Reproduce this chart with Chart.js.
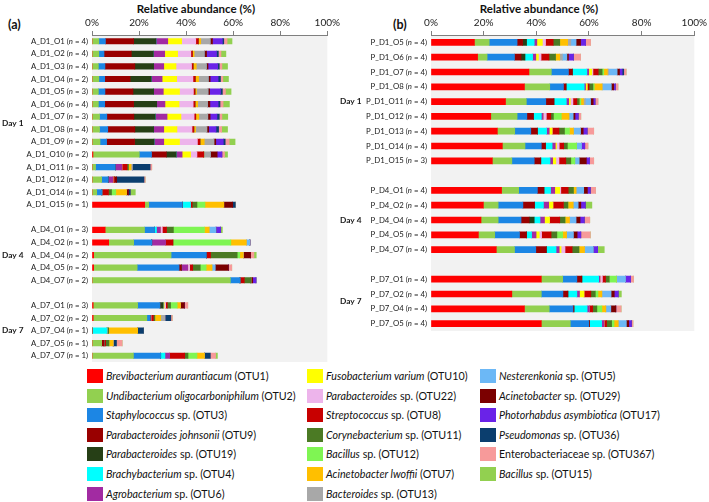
<!DOCTYPE html>
<html>
<head>
<meta charset="utf-8">
<script src="https://cdn.jsdelivr.net/npm/chart.js@4.4.0/dist/chart.umd.min.js"></script>
<style>
  body { margin: 0; background: #fff; font-family: Lato, "Open Sans", sans-serif; color: #111; }
  #wrap { position: relative; width: 709px; height: 502px; overflow: hidden; }
  .chartbox { position: absolute; top: 0; }
  .title { position: absolute; top: 2px; font-weight: bold; font-size: 11.5px; transform: translateX(-50%); white-space: nowrap; }
  .panel { position: absolute; top: 17px; font-weight: bold; font-size: 12.5px; }
  .item { position: absolute; font-size: 10.7px; white-space: nowrap; line-height: 14px; }
  .sw { display: inline-block; width: 16px; height: 14px; vertical-align: top; margin-right: 3px; }
</style>
</head>
<body>
<div id="wrap">
  <div class="title" style="left:196px">Relative abundance (%)</div>
  <div class="title" style="left:539px">Relative abundance (%)</div>
  <div class="panel" style="left:8px">(a)</div>
  <div class="panel" style="left:393px">(b)</div>
  <div class="chartbox" style="left:0"><canvas id="chartA" width="342" height="366"></canvas></div>
  <div class="chartbox" style="left:340px"><canvas id="chartB" width="369" height="335"></canvas></div>
  <div id="legend"></div>
</div>
<script>
// stack order = legend order (column by column)
const otuNames = [
  ['Brevibacterium aurantiacum', ' (OTU1)'],
  ['Undibacterium oligocarboniphilum', ' (OTU2)'],
  ['Staphylococcus', ' sp. (OTU3)'],
  ['Parabacteroides johnsonii', ' (OTU9)'],
  ['Parabacteroides', ' sp. (OTU19)'],
  ['Brachybacterium', ' sp. (OTU4)'],
  ['Agrobacterium', ' sp. (OTU6)'],
  ['Fusobacterium varium', ' (OTU10)'],
  ['Parabacteroides', ' sp. (OTU22)'],
  ['Streptococcus', ' sp. (OTU8)'],
  ['Corynebacterium', ' sp. (OTU11)'],
  ['Bacillus', ' sp. (OTU12)'],
  ['Acinetobacter lwoffii', ' (OTU7)'],
  ['Bacteroides', ' sp. (OTU13)'],
  ['Nesterenkonia', ' sp. (OTU5)'],
  ['Acinetobacter', ' sp. (OTU29)'],
  ['Photorhabdus asymbiotica', ' (OTU17)'],
  ['Pseudomonas', ' sp. (OTU36)'],
  ['', 'Enterobacteriaceae sp. (OTU367)'],
  ['Bacillus', ' sp. (OTU15)']
];
const otuColors = ['#FF0000', '#92D050', '#1C86E4', '#990000', '#263F16', '#00FFFF', '#A22BA2',
  '#FFFF00', '#EDB4EB', '#C80000', '#4B7A24', '#7FF553', '#FFBF00', '#A8A8A8',
  '#6CB8F6', '#7B0000', '#6A23E8', '#0B3E6E', '#F79A9A', '#92D050'];

// panel (a) samples, '' = spacer between days
const labelsA = ['A_D1_O1', 'A_D1_O2', 'A_D1_O3', 'A_D1_O4', 'A_D1_O5', 'A_D1_O6', 'A_D1_O7',
  'A_D1_O8', 'A_D1_O9', 'A_D1_O10', 'A_D1_O11', 'A_D1_O12', 'A_D1_O14', 'A_D1_O15', '',
  'A_D4_O1', 'A_D4_O2', 'A_D4_O4', 'A_D4_O5', 'A_D4_O7', '',
  'A_D7_O1', 'A_D7_O2', 'A_D7_O4', 'A_D7_O5', 'A_D7_O7'];
const nA = [4, 4, 4, 2, 3, 4, 3, 4, 2, 2, 3, 4, 1, 1, null, 3, 1, 2, 2, 2, null, 3, 2, 1, 1, 1];

const A_D1_O1 = [0, 2.9, 2.8, 12, 9.5, 0, 5, 5.9, 6, 1.1, 0, 0, 1, 4, 0, 1, 4.2, 0.6, 1.4, 2.1];
const A_D1_O2 = [0, 2.9, 2.2, 11.6, 9.4, 0, 4.8, 5.5, 5.6, 0.7, 0, 0, 0.7, 4.3, 0, 1, 4.2, 0.8, 1.1, 2.1];
const A_D1_O3 = [0, 2.7, 2.8, 12.7, 8, 0, 4.3, 5.2, 6.6, 0.7, 0, 0, 1.3, 4.3, 0, 0.7, 4.1, 0.7, 1.1, 2.4];
const A_D1_O4 = [0, 2.9, 2.5, 10.8, 9, 0, 4.6, 6.2, 6.9, 1, 0, 0, 1.4, 4.1, 0, 0.8, 3.4, 1, 1, 2.4];
const A_D1_O5 = [0, 2.7, 2.8, 11.9, 8.8, 0, 4.1, 6.9, 5.9, 0.7, 0, 0, 0.6, 4.9, 0, 0.7, 4.6, 0.8, 1.3, 2.4];
const A_D1_O6 = [0, 2.7, 2.7, 12.3, 9.8, 0, 3.5, 6, 6, 0.8, 0, 0, 1.1, 4.2, 0, 1, 3.5, 0.8, 1.3, 2.7];
const A_D1_O7 = [0, 3.2, 3.1, 11.5, 9.1, 0, 5, 5.9, 5.6, 0.7, 0, 0, 1.3, 3.8, 0, 1, 2.9, 1, 1.1, 2.5];
const A_D1_O8 = [0, 3.2, 3.5, 11.5, 8, 0, 4.3, 5.6, 6.4, 0.8, 0, 0, 0.7, 4.8, 0, 0.8, 3.1, 1.1, 1.3, 2.5];
const A_D1_O9 = [0, 3.4, 2.8, 11.9, 8.3, 0, 4.1, 6.7, 7.6, 1.1, 0, 0, 1.8, 4.1, 0, 0.8, 3.2, 0.8, 1.7, 2.5];
const A_D1_O10 = [0.4, 19.7, 5.2, 6.3, 4.2, 0, 2.5, 3.6, 2.7, 2.9, 0, 0, 0, 2.8, 0, 2.9, 2, 0, 1.1, 1.3];
const A_D1_O11 = [0, 1.5, 8.4, 0, 0, 0, 2.8, 0, 0, 2.2, 0.6, 0, 1.1, 0.5, 0, 0, 0, 7.6, 0.7, 0];
const A_D1_O12 = [0, 4.1, 2.8, 0, 0, 0, 2, 0, 0, 0.7, 0, 0, 0, 0, 0, 0.9, 0, 11.6, 0.5, 0];
const A_D1_O14 = [0, 2, 2.2, 0, 0, 0, 0, 0, 0, 2.8, 1.3, 1.8, 4.6, 0, 0, 0.8, 0, 0.8, 0, 2.1];
const A_D1_O15 = [22.4, 1.7, 14.3, 0, 0, 3.5, 0, 0, 0, 0.7, 2, 3.4, 8, 0, 0, 3.8, 0, 1.1, 0, 0];
const A_D4_O1 = [5.6, 16.7, 4.3, 0, 0, 0.8, 1.7, 0, 0.8, 1.8, 2.9, 13.2, 2, 0, 2.9, 0, 2, 0, 0, 0.7];
const A_D4_O2 = [7.1, 10.6, 7.7, 0, 0, 0, 5.9, 0, 0, 3.1, 0, 24.6, 6.6, 0, 1.5, 0, 0, 0, 0, 0];
const A_D4_O4 = [0.7, 32.9, 15, 0, 0, 0, 0, 0, 0, 1.8, 11.3, 1.1, 1.5, 0, 0, 3.1, 0, 0, 1.4, 1];
const A_D4_O5 = [0.7, 18.5, 17.8, 1, 0, 0, 2.7, 0, 0.8, 1.3, 3.2, 2.5, 2.5, 0, 1.4, 5.6, 0, 0, 1.4, 0];
const A_D4_O7 = [0, 58.8, 4.1, 0, 0, 0, 0, 0, 0, 1.8, 2.8, 0, 0, 0, 0, 0.8, 1.4, 0, 0, 0];
const A_D7_O1 = [0.5, 18.9, 9.5, 0, 1.3, 0, 0, 0.5, 0.6, 0.7, 1.4, 2.8, 1.4, 0, 0, 1.7, 0, 0, 1.4, 0];
const A_D7_O2 = [0.5, 22.8, 1.4, 0, 0, 0, 0, 0, 0.4, 1, 0.6, 0, 2.5, 1.8, 0, 0, 0, 2.5, 0.6, 0];
const A_D7_O4 = [0, 0, 0, 0, 0, 6.4, 0, 0, 0, 0, 0.7, 0, 12.3, 0, 0, 0, 0, 2.5, 0, 0];
const A_D7_O5 = [0, 4.1, 0, 1, 0, 0, 0, 0, 0, 0.7, 1.4, 0, 1.8, 0, 0, 0, 0, 1.4, 2.4, 0];
const A_D7_O7 = [0, 17.6, 11.6, 0, 0, 1.8, 2, 0, 0, 6.4, 1.4, 3.8, 3.2, 0, 0, 0, 0, 2.5, 2.2, 0.8];

const rowsA = [A_D1_O1, A_D1_O2, A_D1_O3, A_D1_O4, A_D1_O5, A_D1_O6, A_D1_O7, A_D1_O8, A_D1_O9,
  A_D1_O10, A_D1_O11, A_D1_O12, A_D1_O14, A_D1_O15, null,
  A_D4_O1, A_D4_O2, A_D4_O4, A_D4_O5, A_D4_O7, null,
  A_D7_O1, A_D7_O2, A_D7_O4, A_D7_O5, A_D7_O7];
const daysA = [['Day 1', 0, 13], ['Day 4', 15, 19], ['Day 7', 21, 25]];

// panel (b)
const labelsB = ['P_D1_O5', 'P_D1_O6', 'P_D1_O7', 'P_D1_O8', 'P_D1_O11', 'P_D1_O12', 'P_D1_O13',
  'P_D1_O14', 'P_D1_O15', '', 'P_D4_O1', 'P_D4_O2', 'P_D4_O4', 'P_D4_O5', 'P_D4_O7', '',
  'P_D7_O1', 'P_D7_O2', 'P_D7_O4', 'P_D7_O5'];
const nB = [4, 4, 4, 4, 4, 4, 4, 4, 3, null, 4, 4, 4, 4, 4, null, 4, 4, 4, 4];

const P_D1_O5 = [16.5, 5.6, 10.6, 2.1, 1.5, 2.9, 1, 2.1, 1.2, 2.9, 2.5, 0, 3, 1.2, 2, 1.7, 1.9, 0, 1.9, 0];
const P_D1_O6 = [17.7, 3.6, 10.4, 2.5, 1.5, 2.9, 1.2, 1, 1, 3, 2.5, 0, 1.6, 1, 1.7, 0.6, 1.9, 0, 2.7, 0];
const P_D1_O7 = [37.2, 8.5, 6.5, 1.5, 0, 5.5, 0.7, 1.2, 0.4, 2, 1.5, 0.6, 1.4, 0.5, 3.2, 0.9, 1, 0.6, 0.9, 0];
const P_D1_O8 = [35.5, 9.6, 5.2, 1, 0, 6.9, 0.5, 0.6, 0, 0.7, 1.5, 0.5, 3, 0, 3.5, 0.9, 0.6, 0, 1, 0];
const P_D1_O11 = [28.3, 7.9, 7.4, 3.1, 0, 4.7, 0.9, 0.6, 1, 1.5, 0.9, 0.6, 1, 0.7, 2, 1, 0.7, 0, 1.1, 0];
const P_D1_O12 = [22.7, 10, 3.7, 2.5, 0, 3, 0.7, 0, 1.2, 1.7, 1, 3, 2.9, 0, 1.6, 0.7, 1.2, 0, 1, 0];
const P_D1_O13 = [25.2, 6.6, 6.1, 2.5, 0, 3.5, 1, 1.1, 0, 2.6, 2.1, 1.9, 1.5, 0, 2.7, 1, 1.5, 0, 2.5, 0];
const P_D1_O14 = [27.1, 8.6, 6.2, 1.6, 0, 2.5, 1.2, 0.5, 1, 1.7, 1.4, 3.5, 0, 0, 1.9, 0, 1.2, 0, 1.2, 0];
const P_D1_O15 = [23.3, 7.4, 8.5, 2.5, 0, 3.5, 1, 1.2, 1.2, 2.6, 1.9, 1.5, 0, 0, 1.7, 2.7, 1.2, 0, 1.6, 0];
const P_D4_O1 = [26.8, 6.5, 7.1, 2.5, 0, 2.5, 1.6, 1.9, 0.4, 2.8, 2, 0, 1, 0, 2.9, 1.4, 1.1, 0, 2, 0];
const P_D4_O2 = [19.9, 5.6, 9.4, 4.4, 0, 3.4, 2, 1.6, 0, 4, 1.7, 0, 2, 0, 1.9, 1, 1.7, 0, 0, 2.5];
const P_D4_O4 = [19, 6.5, 8.7, 3.1, 1.9, 2.2, 1.7, 1.9, 0, 3.9, 2, 0, 1.7, 0, 2.5, 1.5, 1.6, 0, 2.1, 0];
const P_D4_O5 = [18, 6.2, 9.4, 2.7, 0, 1.9, 1.7, 1.2, 0.9, 3.6, 2.2, 2.2, 1.5, 0, 2.6, 1.4, 1.4, 0, 3.6, 0];
const P_D4_O7 = [24.8, 6.9, 8.1, 4, 0, 3.7, 1.2, 0.7, 1.5, 2.7, 2.6, 0, 2.1, 0, 3.4, 0, 1.6, 0, 0, 2.5];
const P_D7_O1 = [41.9, 8.1, 5.4, 1.9, 0, 6.4, 0.5, 0, 0.9, 1.2, 1.4, 2.7, 0, 0, 3.5, 0, 1.9, 0, 1.1, 0];
const P_D7_O2 = [30.7, 11.2, 8.2, 1.9, 0, 3.4, 1, 1.7, 0, 2.6, 1.7, 1, 1.5, 0, 3.5, 1.2, 1.5, 0, 0, 1.2];
const P_D7_O4 = [35.5, 9.4, 9, 0.4, 0, 5, 0.9, 0, 0, 1.2, 1.6, 1.9, 1.5, 0, 1.9, 1.9, 0, 0, 2, 0];
const P_D7_O5 = [41.9, 11, 7, 0.3, 0, 4.6, 0.9, 0, 0, 1, 1.9, 0.9, 1.6, 0, 3.1, 0.9, 1, 0, 0.6, 0];

const rowsB = [P_D1_O5, P_D1_O6, P_D1_O7, P_D1_O8, P_D1_O11, P_D1_O12, P_D1_O13, P_D1_O14, P_D1_O15, null,
  P_D4_O1, P_D4_O2, P_D4_O4, P_D4_O5, P_D4_O7, null,
  P_D7_O1, P_D7_O2, P_D7_O4, P_D7_O5];
const daysB = [['Day 1', 0, 8], ['Day 4', 10, 14], ['Day 7', 16, 19]];

const tickPercent = [0, 20, 40, 60, 80, 100];

const FONT = 'Lato, "Open Sans", sans-serif';

// grey plot background
const plotBg = {
  id: 'plotBg',
  beforeDraw(chart) {
    const a = chart.chartArea, ctx = chart.ctx;
    ctx.save();
    ctx.fillStyle = '#F2F2F2';
    ctx.fillRect(a.left, a.top, a.right - a.left, a.bottom - a.top);
    ctx.restore();
  }
};

// sample labels with italic n, plus day labels
const sampleLabels = {
  id: 'sampleLabels',
  afterDraw(chart, args, opts) {
    const ctx = chart.ctx, y = chart.scales.y;
    const right = chart.chartArea.left - 4;
    const normal = '7.8px ' + FONT, italic = 'italic 7.8px ' + FONT;
    ctx.save();
    ctx.textBaseline = 'middle';
    ctx.fillStyle = '#1a1a1a';
    chart.data.labels.forEach((lab, i) => {
      if (!lab) return;
      const py = y.getPixelForValue(i);
      const parts = [[lab + ' (', normal], ['n', italic], [' = ' + opts.n[i] + ')', normal]];
      let w = 0;
      parts.forEach(p => { ctx.font = p[1]; w += ctx.measureText(p[0]).width; });
      let x = right - w;
      ctx.textAlign = 'left';
      parts.forEach(p => { ctx.font = p[1]; ctx.fillText(p[0], x, py); x += ctx.measureText(p[0]).width; });
    });
    ctx.font = 'bold 8.3px ' + FONT;
    opts.days.forEach(d => {
      const py = (y.getPixelForValue(d[1]) + y.getPixelForValue(d[2])) / 2;
      ctx.fillText(d[0], opts.dayX, py);
    });
    ctx.restore();
  }
};

function makeChart(id, labels, rows, nList, days, axisWidth, padRight, thickness, dayX) {
  const datasets = otuNames.map((nm, k) => ({
    label: (nm[0] + nm[1]).trim(),
    data: rows.map(r => (r ? r[k] : null)),
    backgroundColor: otuColors[k],
    borderWidth: 0,
    barThickness: thickness
  }));
  return new Chart(document.getElementById(id), {
    type: 'bar',
    data: { labels: labels, datasets: datasets },
    options: {
      indexAxis: 'y',
      responsive: false,
      animation: false,
      devicePixelRatio: 1,
      layout: { padding: { top: 0, right: padRight, bottom: 4, left: 0 } },
      scales: {
        x: {
          position: 'top',
          stacked: true,
          min: 0,
          max: 100,
          afterBuildTicks: s => { s.ticks = tickPercent.map(v => ({ value: v })); },
          ticks: { callback: v => v + '%', font: { family: FONT, size: 10 }, color: '#222', padding: 2, maxRotation: 0 },
          grid: { drawOnChartArea: false, drawTicks: true, tickLength: 4, color: '#7f7f7f' },
          border: { display: true, color: '#7f7f7f' },
          afterFit: s => { s.height = 35; }
        },
        y: {
          stacked: true,
          ticks: { display: false },
          grid: { display: false },
          border: { display: false },
          afterFit: s => { s.width = axisWidth; }
        }
      },
      plugins: {
        legend: { display: false },
        tooltip: { enabled: false },
        sampleLabels: { n: nList, days: days, dayX: dayX }
      }
    },
    plugins: [plotBg, sampleLabels]
  });
}

makeChart('chartA', labelsA, rowsA, nA, daysA, 92, 12, 5.5, 2);
makeChart('chartB', labelsB, rowsB, nB, daysB, 91, 11, 6, 0);

// legend, 3 columns
const legendCols = [87, 307, 480];
const legendRows = [7, 7, 6];
const legend = document.getElementById('legend');
let k = 0;
legendCols.forEach((cx, c) => {
  for (let r = 0; r < legendRows[c]; r++, k++) {
    const el = document.createElement('div');
    el.className = 'item';
    el.style.left = cx + 'px';
    el.style.top = (369 + r * 19.6) + 'px';
    const it = otuNames[k][0] ? '<i>' + otuNames[k][0] + '</i>' : '';
    el.innerHTML = '<span class="sw" style="background:' + otuColors[k] + '"></span>' + it + otuNames[k][1];
    legend.appendChild(el);
  }
});
</script>
</body>
</html>
